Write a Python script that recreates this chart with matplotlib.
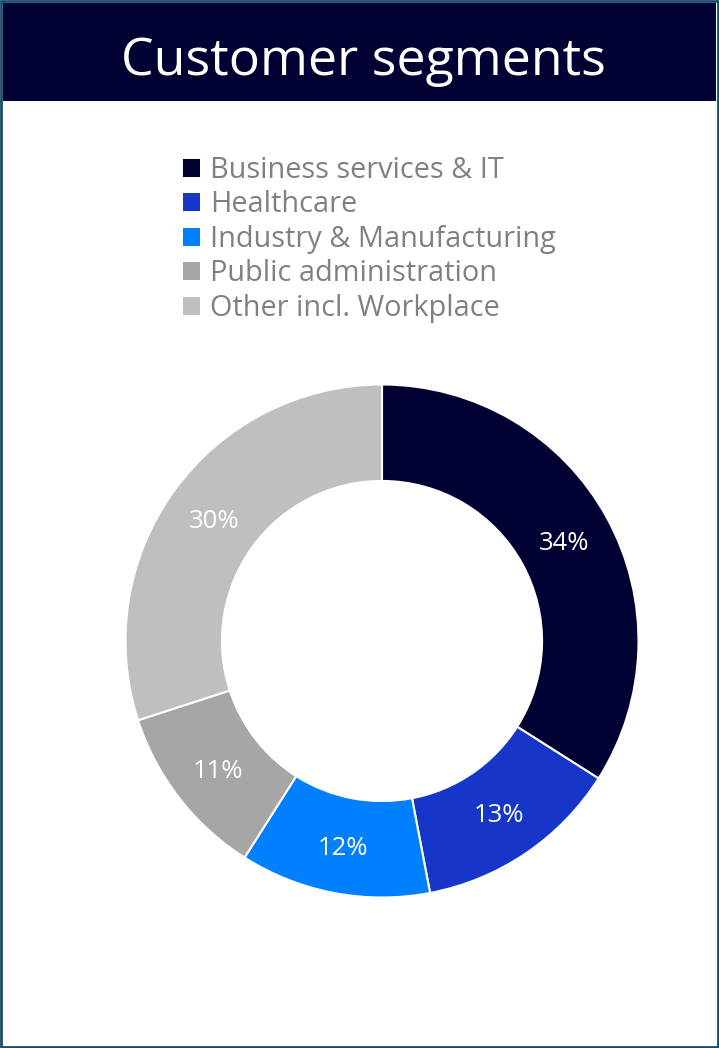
import matplotlib
matplotlib.use("Agg")
import numpy as np
import matplotlib.pyplot as plt
from matplotlib.patches import Rectangle

plt.rcParams["font.family"] = ["Open Sans", "DejaVu Sans"]

segments = ["Business services & IT", "Healthcare", "Industry & Manufacturing",
            "Public administration", "Other incl. Workplace"]
shares = [34, 13, 12, 11, 30]
colors = ["#000033", "#1536c8", "#0080ff", "#a6a6a6", "#bfbfbf"]

W, H = 719, 1048
fig = plt.figure(figsize=(W / 100, H / 100), dpi=100)
fig.patch.set_facecolor("white")

# outer frame and title bar
fig.patches.append(Rectangle((1 / W, 1 / H), (W - 2) / W, (H - 2) / H,
                             transform=fig.transFigure, fill=False,
                             edgecolor="#1c4a6b", linewidth=2))
fig.patches.append(Rectangle((3 / W, 1 - 101 / H), (W - 6) / W, 98 / H,
                             transform=fig.transFigure, facecolor="#000033",
                             edgecolor="none"))
fig.text(363 / W, 1 - 75 / H, "Customer segments", color="white",
         fontsize=37.4, ha="center", va="baseline")

# donut
cx, cy, r = 382, 641, 256.5
ax = fig.add_axes([(cx - r) / W, (H - cy - r) / H, 2 * r / W, 2 * r / H])
wedges, texts = ax.pie(shares, colors=colors, startangle=90, counterclock=False,
                       radius=1, labels=None,
                       wedgeprops=dict(width=0.376, edgecolor="white", linewidth=1.5))
for w, v in zip(wedges, shares):
    ang = np.deg2rad((w.theta1 + w.theta2) / 2)
    ax.text(0.81 * np.cos(ang), 0.81 * np.sin(ang), f"{v}%", color="white",
            fontsize=18.5, ha="center", va="center_baseline")
ax.set_xlim(-1, 1)
ax.set_ylim(-1, 1)
ax.set_aspect("equal")
ax.axis("off")

leg = fig.legend(wedges, segments, loc="upper left",
                 bbox_to_anchor=(183 / W, 1 - 156 / H), frameon=False,
                 fontsize=20.8, handlelength=0.6, handleheight=0.6,
                 handletextpad=0.35, labelspacing=0.19, borderpad=0,
                 borderaxespad=0)
for t in leg.get_texts():
    t.set_color("#808080")
for h in leg.legend_handles:
    h.set_linewidth(0)

fig.savefig("out.png", dpi=100)
